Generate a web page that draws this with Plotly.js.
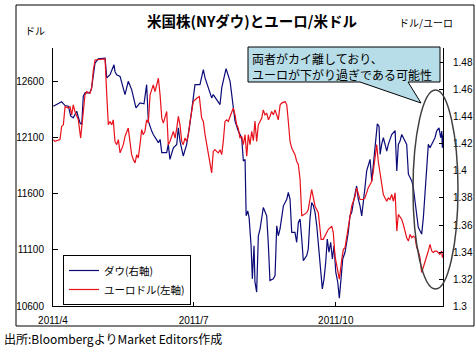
<!DOCTYPE html>
<html>
<head>
<meta charset="utf-8">
<script src="https://cdn.plot.ly/plotly-3.0.1.min.js"></script>
<style>
html,body{margin:0;padding:0;background:#fff;}
#chart{width:475px;height:349px;}
</style>
</head>
<body>
<div id="chart"></div>
<script>
// ---- data (days since 2011-04-01, values) ----
const startDate = '2011-04-01';
const dowName = 'ダウ(右軸)';
const eurName = 'ユーロドル(左軸)';

const dowDay = [0.2,5.6,7.8,9.9,11.5,13.1,15.3,17.5,18.6,19.6,20.7,23.9,25.0,27.2,29.3,33.7,34.8,36.9,39.5,40.1,41.2,43.4,46.6,48.7,50.9,53.7,56.3,58.9,60.6,61.7,63.9,64.9,68.2,69.3,70.4,73.6,74.6,75.7,77.9,80.1,81.1,82.2,84.3,86.5,88.7,90.8,91.9,95.1,97.3,98.4,100.5,102.7,103.7,105.9,108.1,109.2,110.2,112.0,114.6,116.7,117.8,119.9,122.1,123.2,124.3,125.0,126.0,126.9,128.2,129.0,130.1,130.7,131.8,132.9,134.0,136.1,137.2,138.3,139.4,140.4,142.6,143.7,144.8,145.8,146.9,148.0,149.1,151.3,152.3,153.4,154.5,156.6,157.7,158.8,159.9,161.0,162.0,164.2,165.2,166.3,167.4,168.5,169.6,170.7,171.7,172.8,174.3,175.4,176.5,177.5,178.6,179.7,180.8,181.9,183.0,184.3,185.3,186.4,187.5,189.0,191.1,192.2,193.3,194.4,195.5,196.5,197.6,198.7,199.8,200.8,201.9,203.0,205.2,206.3,207.3,208.4,209.9,211.0,211.7,212.7,213.8,214.9,216.0,217.0,219.2,221.4,222.5,223.5,224.6,225.7,227.8,228.9,230.0,232.2,233.2,234.3,235.4,236.4,237.5,238.6,239.7,240.8,241.9,242.9,244.0,245.1,246.1,247.2,248.3,249.8,250.9,251.6,252.0,252.6];
const dowVal = [12381,12420,12387,12381,12292,12278,12336,12233,12218,12470,12500,12500,12544,12766,12804,12810,12633,12662,12751,12691,12662,12647,12485,12603,12529,12366,12411,12402,12573,12248,12159,12129,12056,12085,11967,11967,12041,11907,12011,12041,12189,12070,11937,12041,12233,12485,12573,12573,12707,12633,12544,12455,12485,12440,12396,12544,12603,12716,12603,12366,12248,12159,12100,11892,11907,11404,11448,11390,11137,10842,11137,10815,10724,11226,11286,11478,11434,11404,11137,10827,10842,10871,11315,11226,11286,11404,11493,11552,11612,11552,11256,11256,11168,11345,11375,11197,11004,11049,11108,11375,11523,11493,11434,11315,11137,10960,10753,10842,10990,11197,11079,11168,11019,11137,10901,10812,10670,10842,11019,11079,11256,11404,11434,11523,11612,11670,11552,11493,11404,11552,11656,11804,11907,11715,11863,11981,12224,12203,11952,12041,12100,12041,11981,12041,12129,12164,11804,12041,12070,12129,12070,12041,11775,11715,11656,11537,11419,11301,11271,11241,11390,11597,11804,12041,12011,12041,12070,12100,12159,12189,12100,12159,12011,12129];

const eurDay = [0.2,1.3,4.5,5.6,6.7,7.8,9.9,11.0,12.1,13.1,14.2,15.3,16.4,17.9,19.6,20.7,21.8,23.9,25.0,26.1,27.2,33.7,34.8,35.8,36.9,38.0,39.0,40.1,41.2,42.3,43.4,44.5,45.5,46.6,47.7,48.7,49.8,50.9,52.0,53.1,54.2,55.2,56.3,57.4,58.4,59.5,60.6,61.7,62.8,63.9,64.9,66.0,67.1,68.2,69.3,70.4,71.4,72.5,73.6,74.6,75.7,77.9,79.0,80.1,81.1,82.2,83.3,84.3,85.4,86.5,87.6,88.7,89.8,90.8,93.0,94.7,96.2,97.3,98.4,99.5,100.5,101.6,102.7,103.7,104.8,105.9,107.0,108.1,109.2,110.2,111.3,112.4,113.5,114.6,115.6,116.7,117.8,118.9,119.9,121.0,122.1,123.2,124.3,125.4,126.4,127.5,128.6,129.7,130.7,131.8,132.9,134.0,135.1,136.1,137.2,138.3,139.4,140.4,141.5,142.6,143.7,144.8,145.8,147.0,148.0,150.2,151.3,152.3,153.4,154.5,155.5,156.6,157.7,158.8,159.9,161.0,164.2,165.2,167.4,168.5,169.6,171.7,173.5,174.9,176.1,178.2,180.4,181.4,182.5,184.3,185.3,186.9,187.9,189.0,191.1,192.2,193.3,195.5,196.5,198.7,200.8,201.9,203.0,204.0,205.2,206.3,207.3,208.4,209.5,210.5,211.7,212.7,213.8,214.9,216.0,217.0,218.1,219.2,220.3,221.4,222.5,223.5,224.6,225.7,226.7,227.8,228.9,230.0,231.1,232.2,233.2,234.3,235.4,236.4,237.5,238.6,239.7,240.8,241.9,242.9,244.0,245.1,246.1,247.2,248.3,249.3,250.4,251.6,252.0,252.6];
const eurVal = [1.4232,1.4219,1.4232,1.433,1.4342,1.4477,1.4466,1.4477,1.4416,1.449,1.4441,1.4404,1.4379,1.4244,1.4441,1.4564,1.4588,1.4576,1.4613,1.4748,1.4822,1.483,1.4564,1.4342,1.4367,1.4342,1.4379,1.4219,1.4195,1.4232,1.4134,1.417,1.4195,1.4256,1.4293,1.4318,1.4219,1.4121,1.4084,1.406,1.4121,1.4097,1.4195,1.4306,1.4269,1.4293,1.4379,1.4355,1.4564,1.461,1.4638,1.4588,1.4638,1.4687,1.4564,1.4392,1.4355,1.4392,1.4441,1.4195,1.4219,1.4293,1.4244,1.4318,1.4404,1.4342,1.4219,1.4195,1.4244,1.4219,1.4269,1.4367,1.4441,1.4514,1.4539,1.4551,1.4392,1.4367,1.4269,1.4195,1.4121,1.4072,1.3986,1.4145,1.4158,1.4145,1.4134,1.4158,1.4121,1.4219,1.4367,1.4379,1.4367,1.4404,1.4441,1.4466,1.4416,1.4342,1.4318,1.4244,1.4256,1.4195,1.4269,1.4109,1.4269,1.4195,1.4293,1.4225,1.437,1.4219,1.4342,1.4367,1.4392,1.4453,1.4416,1.4429,1.4379,1.4404,1.4441,1.4416,1.4453,1.4416,1.4379,1.449,1.4503,1.4514,1.449,1.4367,1.4219,1.417,1.4145,1.4121,1.4072,1.4047,1.3937,1.3666,1.3691,1.3715,1.3863,1.3789,1.3739,1.3691,1.3494,1.3494,1.3518,1.3568,1.3592,1.3543,1.337,1.3248,1.3199,1.3346,1.342,1.3432,1.3568,1.3641,1.3739,1.3813,1.3875,1.3789,1.3789,1.38,1.385,1.3875,1.39,1.3924,1.3998,1.4121,1.4195,1.4072,1.3973,1.39,1.3826,1.38,1.3776,1.38,1.3789,1.3826,1.3776,1.3838,1.3555,1.3678,1.3654,1.3641,1.3605,1.3555,1.3506,1.3481,1.353,1.3506,1.3518,1.3506,1.3432,1.3407,1.3359,1.3248,1.3285,1.3334,1.3359,1.3407,1.3457,1.3407,1.3396,1.3407,1.3407,1.3396,1.3383,1.3407,1.3359,1.3383];

const leftTicks = [10600,11100,11600,12100,12600];
const leftTickText = ['10600','11100','11600','12100','12600'];
const rightTicks = [1.30,1.32,1.34,1.36,1.38,1.40,1.42,1.44,1.46,1.48];
const rightTickText = ['1.3','1.32','1.34','1.36','1.38','1.4','1.42','1.44','1.46','1.48'];
const xTickDates = ['2011-04-01','2011-07-01','2011-10-01'];
const xTickText = ['2011/4','2011/7','2011/10'];
const xEndDays = 252.4;

const titleText = '米国株(NYダウ)とユーロ/米ドル';
const leftUnit = 'ドル';
const rightUnit = 'ドル/ユーロ';
const calloutText = '両者がカイ離しており、<br>ユーロが下がり過ぎである可能性';
const sourceText = '出所:BloombergよりMarket Editors作成';

// ---- build ----
const DAY = 86400000;
const t0 = Date.UTC(2011,3,1);
const toDate = d => new Date(t0 + d*DAY).toISOString().replace('T',' ').slice(0,19);

// plot area in pixels: left 53, right 443, top 48, bottom 306
const L=53, R=443, T=48, B=306;
const px = x => (x-L)/(R-L);
const py = y => (B-y)/(B-T);

const traces = [
  {x: dowDay.map(toDate), y: dowVal, name: dowName, type:'scatter', mode:'lines',
   line:{color:'#0a0a78', width:1.2}, yaxis:'y'},
  {x: eurDay.map(toDate), y: eurVal, name: eurName, type:'scatter', mode:'lines',
   line:{color:'#e8101a', width:1.2}, yaxis:'y2'}
];

const calloutPath = 'M '+px(248)+','+py(47)+' L '+px(440)+','+py(47)+' L '+px(440)+','+py(82)+
  ' L '+px(408)+','+py(82)+' L '+px(421)+','+py(103)+' L '+px(360)+','+py(82)+
  ' L '+px(248)+','+py(82)+' Z';

const tickFont = {family:'"Liberation Sans", Arial, sans-serif', size:10, color:'#000'};

const layout = {
  width:475, height:349,
  margin:{l:L, r:475-R, t:T, b:349-B, pad:0},
  paper_bgcolor:'#fff', plot_bgcolor:'#fff',
  font:{family:'"Noto Sans CJK JP", "Noto Sans", sans-serif', size:10, color:'#000'},
  title:{text:titleText, x:252/475, xanchor:'center', y:1-22/349, yanchor:'middle',
         xref:'container', yref:'container',
         font:{size:14.5, color:'#000', family:'"Noto Sans CJK JP", sans-serif', weight:'bold'}},
  showlegend:true,
  legend:{x:px(63), y:py(255), xanchor:'left', yanchor:'top',
          bgcolor:'#fff', bordercolor:'#000', borderwidth:1,
          font:{size:10.5}, tracegroupgap:0, itemwidth:30},
  xaxis:{type:'date', range:[toDate(0), toDate(xEndDays)],
         tickvals:xTickDates, ticktext:xTickText,
         ticks:'inside', ticklen:4, tickcolor:'#000',
         showline:true, linecolor:'#000', linewidth:1,
         showgrid:false, zeroline:false, ticklabelstandoff:5,
         tickfont:tickFont},
  yaxis:{range:[10600,12900], tickvals:leftTicks, ticktext:leftTickText,
         ticks:'inside', ticklen:5, tickcolor:'#000',
         showline:true, linecolor:'#000', linewidth:1,
         showgrid:false, zeroline:false, ticklabelstandoff:6,
         tickfont:tickFont},
  yaxis2:{range:[1.30,1.4911], overlaying:'y', side:'right',
          tickvals:rightTicks, ticktext:rightTickText,
          ticks:'inside', ticklen:4, tickcolor:'#000',
          showline:true, linecolor:'#000', linewidth:1,
          showgrid:false, zeroline:false, ticklabelstandoff:7,
          tickfont:tickFont},
  shapes:[
    {type:'rect', xref:'paper', yref:'paper', x0:px(16), x1:px(474), y0:py(326), y1:py(5),
     line:{color:'#000', width:1}, fillcolor:'rgba(0,0,0,0)', layer:'below'},
    {type:'path', xref:'paper', yref:'paper', path:calloutPath,
     fillcolor:'#b7dde8', line:{color:'#000', width:1}, layer:'above'},
    {type:'circle', xref:'paper', yref:'paper', x0:px(413), x1:px(458), y0:py(289), y1:py(90),
     line:{color:'#404040', width:1.5}, fillcolor:'rgba(0,0,0,0)', layer:'above'}
  ],
  annotations:[
    {text:leftUnit, xref:'paper', yref:'paper', x:px(23), y:py(30), xanchor:'left', yanchor:'middle',
     showarrow:false, font:{size:10}},
    {text:rightUnit, xref:'paper', yref:'paper', x:px(397), y:py(22), xanchor:'left', yanchor:'middle',
     showarrow:false, font:{size:10}},
    {text:calloutText, xref:'paper', yref:'paper', x:px(250), y:py(48), xanchor:'left', yanchor:'top',
     align:'left', showarrow:false, font:{size:12}},
    {text:sourceText, xref:'paper', yref:'paper', x:px(2), y:py(338), xanchor:'left', yanchor:'middle',
     showarrow:false, font:{size:12}}
  ]
};

Plotly.newPlot('chart', traces, layout, {staticPlot:true, displayModeBar:false});
</script>
</body>
</html>
